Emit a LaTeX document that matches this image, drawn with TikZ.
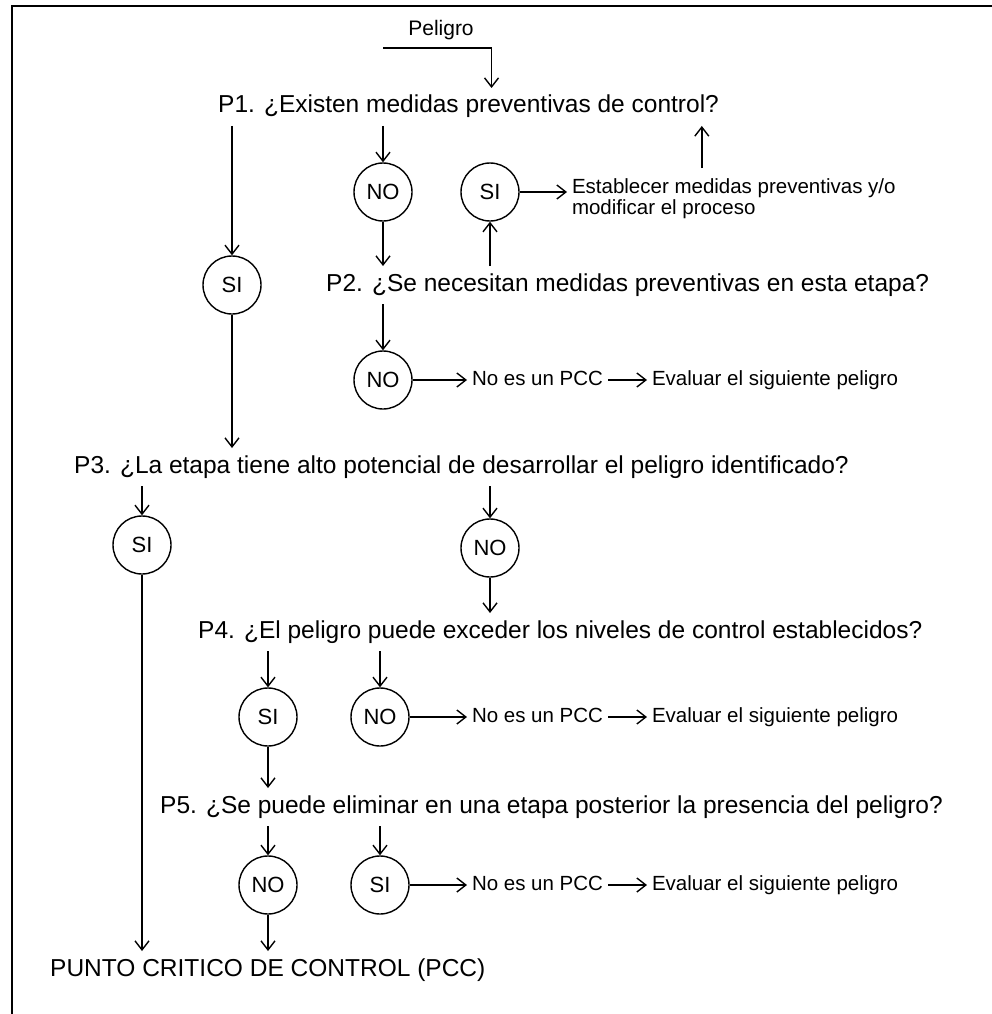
\documentclass[tikz,border=0pt]{standalone}
\usepackage{fontspec}
\setmainfont{Liberation Sans}
\usetikzlibrary{arrows.meta}
\begin{document}
\begin{tikzpicture}[x=1pt,y=-1pt,
  every node/.style={inner sep=0pt},
  question/.style={anchor=west, font=\fontsize{24.5}{28}\selectfont,
    text height=17pt, text depth=5pt, outer ysep=8pt},
  answer/.style={circle, draw, line width=1.4pt, minimum size=58pt,
    font=\fontsize{22}{24}\selectfont},
  notetext/.style={font=\fontsize{20.5}{21}\selectfont, outer xsep=5pt},
  note/.style={notetext, anchor=west, text height=15pt, text depth=4pt},
  arr/.style={line width=1.4pt,
    -{Straight Barb[length=9pt,width=14pt,line width=1.4pt]}},
  frame/.style={line width=2pt}
]
\useasboundingbox (0,0) rectangle (992,1014);
\fill[white] (0,0) rectangle (992,1014);
% page frame (top and left edges)
\draw[frame] (12,1014) -- (12,6) -- (992,6);

% questions
\node[font=\fontsize{21}{24}\selectfont] (peligro) at (441,30) {Peligro};
\coordinate (hazard) at (383,48);
\node[question] (p1) at (218,107) {P1. ¿Existen medidas preventivas de control?};
\node[question] (p2) at (326,285) {P2. ¿Se necesitan medidas preventivas en esta etapa?};
\node[question] (p3) at (74,467) {P3. ¿La etapa tiene alto potencial de desarrollar el peligro identificado?};
\node[question] (p4) at (198,632) {P4. ¿El peligro puede exceder los niveles de control establecidos?};
\node[question] (p5) at (160,807) {P5. ¿Se puede eliminar en una etapa posterior la presencia del peligro?};
\node[question] (pcc) at (50,970) {PUNTO CRITICO DE CONTROL (PCC)};

% answers
\node[answer] (si1) at (232,285) {SI};
\node[answer] (no1) at (383,192) {NO};
\node[answer] (si2) at (490,192) {SI};
\node[answer] (no2) at (383,380) {NO};
\node[answer] (si3) at (142,545) {SI};
\node[answer] (no3) at (490,548) {NO};
\node[answer] (si4) at (268,717) {SI};
\node[answer] (no4) at (380,717) {NO};
\node[answer] (no5) at (268,885) {NO};
\node[answer] (si5) at (380,885) {SI};

% side notes
\node[notetext, anchor=north west, align=left, outer ysep=11pt] (est) at (567,168)
  {Establecer medidas preventivas y/o\\modificar el proceso};
\node[note] (pccno1) at (467,380) {No es un PCC};
\node[note] (eval1) at (647,380) {Evaluar el siguiente peligro};
\node[note] (pccno2) at (467,717) {No es un PCC};
\node[note] (eval2) at (647,717) {Evaluar el siguiente peligro};
\node[note] (pccno3) at (467,885) {No es un PCC};
\node[note] (eval3) at (647,885) {Evaluar el siguiente peligro};

% connectors
\draw[arr] (hazard) -| ([xshift=23pt]p1.north);
\draw[arr] (p1.south -| si1) -- (si1);
\draw[arr] (si1) -- (p3.north -| si1);
\draw[arr] (p1.south -| no1) -- (no1);
\draw[arr] (no1) -- (p2.north -| no1);
\draw[arr] (p2.north -| si2) -- (si2);
\draw[arr] (si2) -- (est.west |- si2);
\draw[arr] ([xshift=-32pt]est.north) -- ([xshift=-32pt]est.north |- p1.south);
\draw[arr] (p2.south -| no2) -- (no2);
\draw[arr] (no2) -- (pccno1);
\draw[arr] (pccno1) -- (eval1);
\draw[arr] (p3.south -| si3) -- (si3);
\draw[arr] (si3) -- (pcc.north -| si3);
\draw[arr] (p3.south -| no3) -- (no3);
\draw[arr] (no3) -- (p4.north -| no3);
\draw[arr] (p4.south -| si4) -- (si4);
\draw[arr] (p4.south -| no4) -- (no4);
\draw[arr] (no4) -- (pccno2);
\draw[arr] (pccno2) -- (eval2);
\draw[arr] (si4) -- (p5.north -| si4);
\draw[arr] (p5.south -| no5) -- (no5);
\draw[arr] (p5.south -| si5) -- (si5);
\draw[arr] (si5) -- (pccno3);
\draw[arr] (pccno3) -- (eval3);
\draw[arr] (no5) -- (pcc.north -| no5);
\end{tikzpicture}
\end{document}
